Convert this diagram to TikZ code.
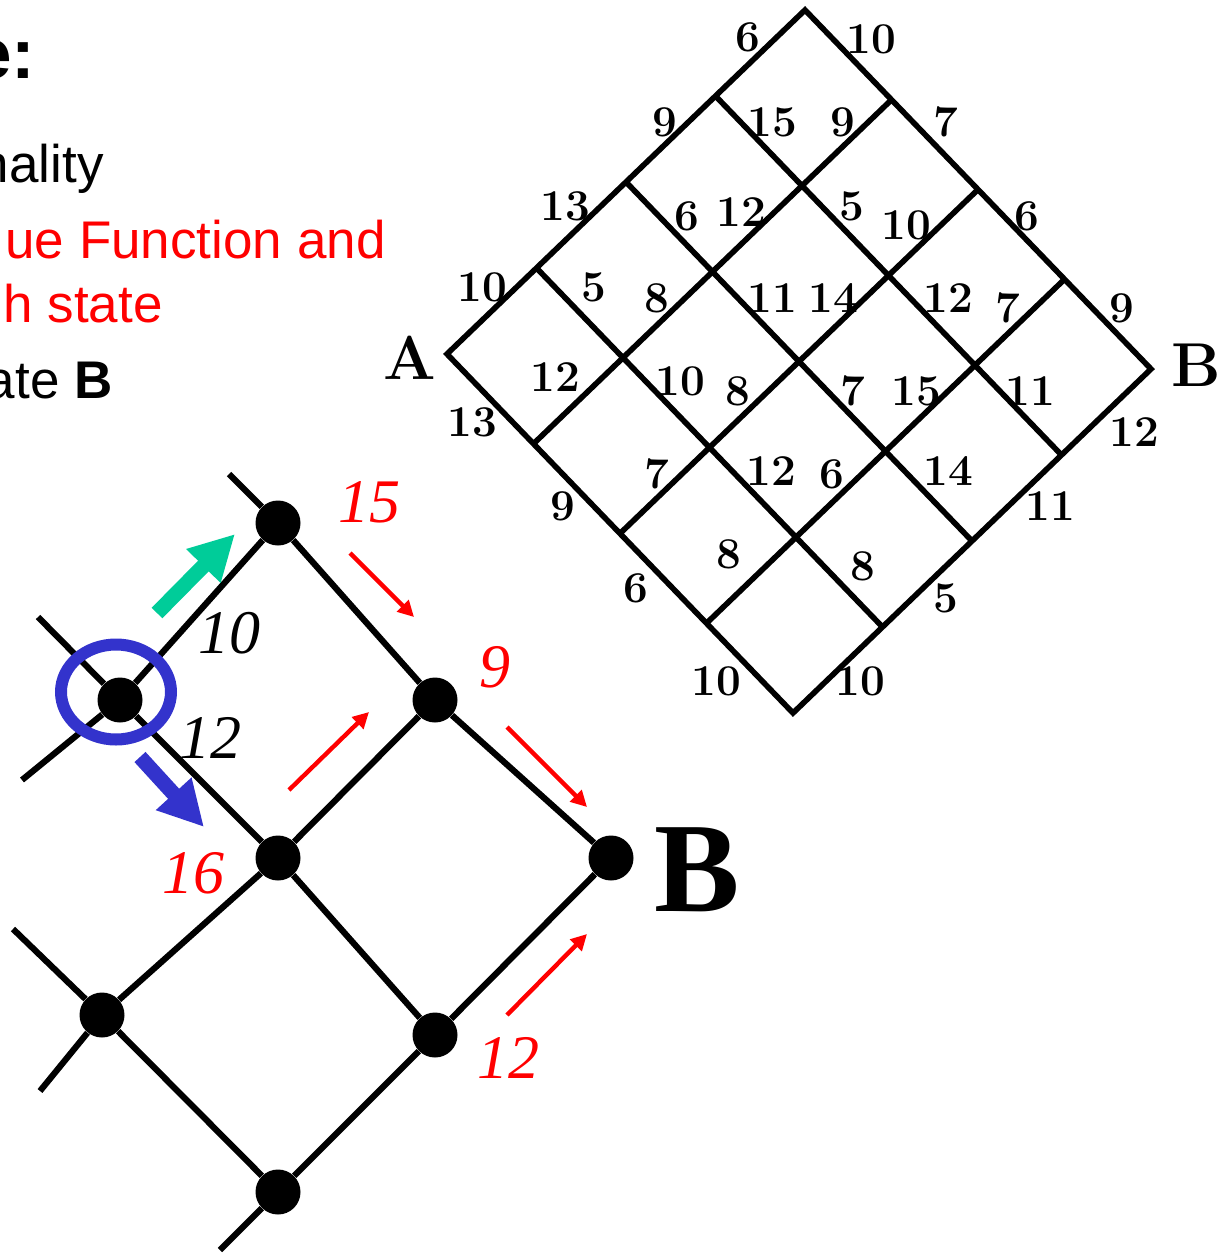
\documentclass[tikz,border=0pt]{standalone}
\usepackage{fontspec}
\usepackage{tikz}
\usetikzlibrary{arrows.meta}
\newfontfamily\arialfont{Liberation Sans}
\newfontfamily\timesfont{Liberation Serif}
\definecolor{ringblue}{RGB}{51,51,204}
\definecolor{arrowgreen}{RGB}{0,204,153}

\tikzset{
  wt/.style={font=\fontsize{22}{25}\selectfont\bfseries, inner sep=0pt},
  corner/.style={font=\fontsize{31}{36}\selectfont\bfseries, inner sep=0pt},
  val/.style={font=\timesfont\itshape\fontsize{31}{36}\selectfont, inner sep=0pt},
  txt/.style={font=\arialfont\fontsize{26.5}{31}\selectfont, inner sep=0pt, anchor=base east},
  dot/.style={circle, fill, inner sep=0pt, minimum size=22.5pt},
  edge/.style={line width=3.1pt},
  bigarrow/.style={line width=7.5pt, -{Triangle[length=22.5pt, width=22.5pt]}},
  redarrow/.style={red, line width=2.2pt, -{Triangle[length=8pt, width=8pt]}},
}

\begin{document}
\begin{tikzpicture}[x=0.5pt, y=-0.5pt]
        \useasboundingbox (0,0) rectangle (1228,1254);

        \node[txt, font=\arialfont\bfseries\fontsize{35.5}{40}\selectfont] (title) at (36,78) {e:};
        \node[txt] (l1) at (104,182) {nality};
        \node[txt, red] (l2) at (386,258) {ue Function and};
        \node[txt, red] (l3) at (163,322) {h state};
        \node[txt] (l4) at (113,398) {ate \textbf{B}};

        \coordinate (A0) at (447,354);
        \begin{scope}[shift={(A0)}, x={(44.75pt,43pt)}, y={(43.25pt,-44.875pt)}, line width=2.8pt]
            \draw[line join=miter] (0,0) -- (4,0) -- (4,4) -- (0,4) -- cycle;
            \foreach \k in {1,2,3} {
                \draw (\k,0) -- (\k,4);
                \draw (0,\k) -- (4,\k);
            }
        \end{scope}

        \node[corner] (lA) at (410,358) {A};
        \node[corner] (lB) at (1196,365) {B};

        \foreach \px/\py/\w [count=\n] in {748/37/6, 871/39/10, 665/122/9, 772/122/15,
            843/122/9, 946/122/7, 565/206/13, 687/216/6, 741/212/12, 852/206/5,
            906/225/10, 1027/216/6, 482/287/10, 594/287/5, 657/298/8, 772/298/11,
            833/298/14, 948/298/12, 1008/308/7, 1122/308/9, 555/377/12, 680/381/10,
            738/391/8, 853/391/7, 916/391/15, 1030/391/11, 472/422/13, 1134/432/12,
            657/474/7, 771/471/12, 832/474/6, 948/471/14, 563/506/9, 1050/506/11,
            729/554/8, 863/566/8, 636/588/6, 946/598/5, 716/681/10, 860/681/10}
        \node[wt] (w\n) at (\px,\py) {\w};

        \node[dot] (s0) at (120,700) {};
        \node[dot] (s1) at (278,523) {};
        \node[dot] (s2) at (435,700) {};
        \node[dot] (s3) at (278,858) {};
        \node[dot] (sB) at (611,858) {};
        \node[dot] (s4) at (102,1015) {};
        \node[dot] (s5) at (435,1035) {};
        \node[dot] (s6) at (278,1192) {};
        \coordinate (t1) at (229,474);
        \coordinate (t0a) at (38,617);
        \coordinate (t0b) at (22,780);
        \coordinate (t4a) at (13,929);
        \coordinate (t4b) at (40,1091);
        \coordinate (t6) at (220,1250);

        \draw[edge] (t1) -- (s1) -- (s2) -- (sB);
        \draw[edge] (t0a) -- (s0) -- (s3) -- (s5);
        \draw[edge] (t0b) -- (s0) -- (s1);
        \draw[edge] (s3) -- (s2);
        \draw[edge] (s5) -- (sB);
        \draw[edge] (t4a) -- (s4) -- (s6) -- (s5);
        \draw[edge] (t4b) -- (s4) -- (s3);
        \draw[edge] (t6) -- (s6);

        \draw[ringblue, line width=6pt] (116,692) ellipse [x radius=27.5pt, y radius=23.75pt];
        \draw[bigarrow, arrowgreen] (157,613) -- (235,534);
        \draw[bigarrow, ringblue] (140,757) -- (204,827);

        \draw[redarrow] (350,553) -- (414,617);
        \draw[redarrow] (289,790) -- (369,712);
        \draw[redarrow] (507,727) -- (587,807);
        \draw[redarrow] (507,1015) -- (587,934);

        \node[val, red] (v1) at (369,502) {15};
        \node[val] (c1) at (229,633) {10};
        \node[val] (c2) at (210,738) {12};
        \node[val, red] (v2) at (495,667) {9};
        \node[val, red] (v3) at (193,873) {16};
        \node[val, red] (v4) at (508,1058) {12};
        \node[font=\timesfont\bfseries\fontsize{64}{70}\selectfont, inner sep=0pt] (bigB) at (697,870) {B};
    \end{tikzpicture}
\end{document}
